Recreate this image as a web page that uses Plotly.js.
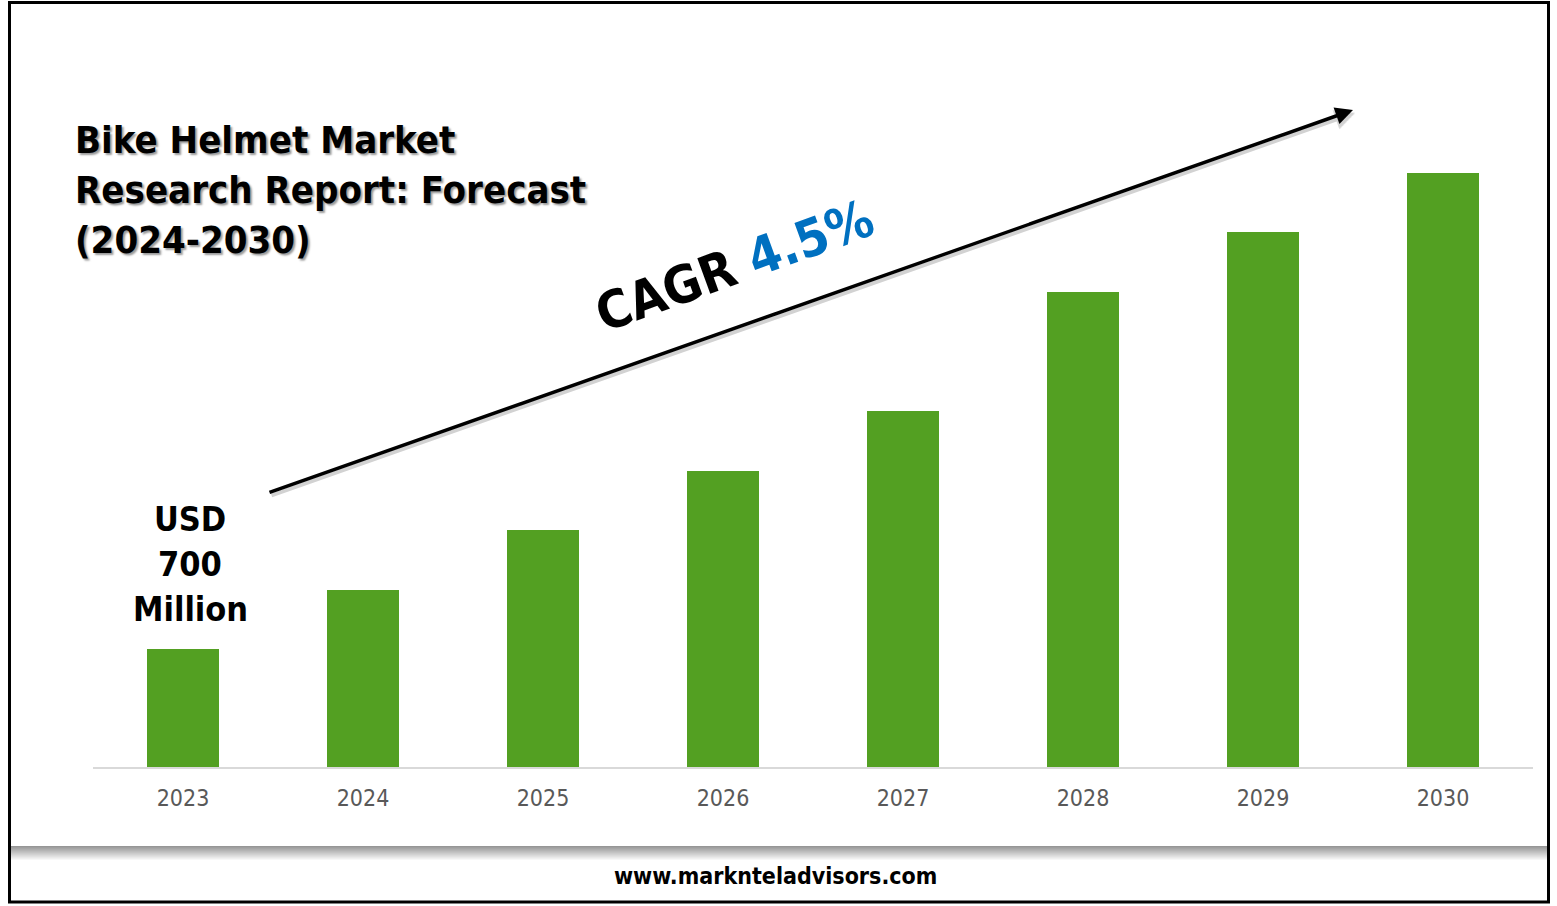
<!DOCTYPE html>
<html>
<head>
<meta charset="utf-8">
<script src="https://cdn.plot.ly/plotly-3.0.1.min.js"></script>
<style>
html,body{margin:0;padding:0;background:#fff;}
#chart{width:1557px;height:906px;}
</style>
</head>
<body>
<div id="chart"></div>
<script>
// Data (illustrative bar heights; 2023 = USD 700 Million)
const years = ["2023","2024","2025","2026","2027","2028","2029","2030"];
const barValues = [118, 177, 237, 296, 356, 475, 535, 594];
const titleLines = ["Bike Helmet Market", "Research Report: Forecast", "(2024-2030)"];
const startLabel = ["USD", "700", "Million"];
const cagrValue = "4.5%";
const website = "www.marknteladvisors.com";

const W = 1557, H = 906;
const L = 93, R = 1533, T = 167, B = 767;
const yMax = 600;
const px = x => (x - L) / (R - L);
const py = y => (B - y) / (B - T);

const FONT = "DejaVu Sans Condensed, DejaVu Sans, sans-serif";

const trace = {
  type: "bar",
  x: years,
  y: barValues,
  marker: {color: "#53A022"},
  width: 0.4,
  hoverinfo: "x+y"
};

const annotations = [];
titleLines.forEach((t, i) => {
  annotations.push({
    xref: "paper", yref: "paper",
    x: px(73), y: py(140 + i * 50),
    xanchor: "left", yanchor: "middle",
    text: "<b>" + t + "</b>", showarrow: false,
    font: {family: FONT, size: 38, color: "#000", shadow: "2px 2px 2px #9a9a9a"}
  });
});
startLabel.forEach((t, i) => {
  annotations.push({
    xref: "paper", yref: "paper",
    x: px(190), y: py(519 + i * 45),
    xanchor: "center", yanchor: "middle",
    text: "<b>" + t + "</b>", showarrow: false,
    font: {family: FONT, size: 34, color: "#000"}
  });
});
// arrow shadow
annotations.push({
  xref: "paper", yref: "paper",
  x: px(1355), y: py(113),
  axref: "pixel", ayref: "pixel",
  ax: 268 - 1353, ay: 493 - 110,
  text: "", showarrow: true,
  arrowhead: 2, arrowsize: 1, arrowwidth: 4, arrowcolor: "rgba(0,0,0,0.18)"
});
annotations.push({
  xref: "paper", yref: "paper",
  x: px(1353), y: py(110),
  axref: "pixel", ayref: "pixel",
  ax: 268 - 1353, ay: 493 - 110,
  text: "", showarrow: true,
  arrowhead: 2, arrowsize: 1, arrowwidth: 3.5, arrowcolor: "#000"
});
annotations.push({
  xref: "paper", yref: "paper",
  x: px(734), y: py(266),
  xanchor: "center", yanchor: "middle",
  textangle: -20,
  text: "<b>CAGR <span style='color:#0070C0'>" + cagrValue + "</span></b>",
  showarrow: false,
  font: {family: FONT, size: 52, color: "#000"}
});
annotations.push({
  xref: "paper", yref: "paper",
  x: px(775), y: py(876),
  xanchor: "center", yanchor: "middle",
  text: "<b>" + website + "</b>", showarrow: false,
  font: {family: FONT, size: 23, color: "#000"}
});

const shapes = [];
// gradient band
const bandTop = 846, bandBot = 861;
for (let i = 0; i < bandBot - bandTop; i++) {
  const f = i / (bandBot - bandTop - 1);
  const g = Math.round(150 + f * 105);
  shapes.push({
    type: "rect", xref: "paper", yref: "paper", layer: "below",
    x0: px(10), x1: px(1548), y0: py(bandTop + i), y1: py(bandTop + i + 1),
    line: {width: 0}, fillcolor: `rgb(${g},${g},${g})`
  });
}
// outer border
shapes.push({
  type: "rect", xref: "paper", yref: "paper",
  x0: px(9.5), x1: px(1548.5), y0: py(2.5), y1: py(902),
  line: {color: "#000", width: 3}, fillcolor: "rgba(0,0,0,0)"
});

const layout = {
  width: W, height: H,
  margin: {l: L, r: W - R, t: T, b: H - B},
  paper_bgcolor: "#fff", plot_bgcolor: "#fff",
  showlegend: false,
  bargap: 0.6,
  xaxis: {
    type: "category",
    showline: true, linecolor: "#d9d9d9", linewidth: 2,
    showgrid: false, zeroline: false, ticks: "",
    tickfont: {family: FONT, size: 23, color: "#595959"},
    ticklabelstandoff: 9,
    fixedrange: true
  },
  yaxis: {
    range: [0, yMax], visible: false, showgrid: false, zeroline: false,
    fixedrange: true
  },
  annotations: annotations,
  shapes: shapes
};

Plotly.newPlot("chart", [trace], layout, {displayModeBar: false, staticPlot: true});
</script>
</body>
</html>
